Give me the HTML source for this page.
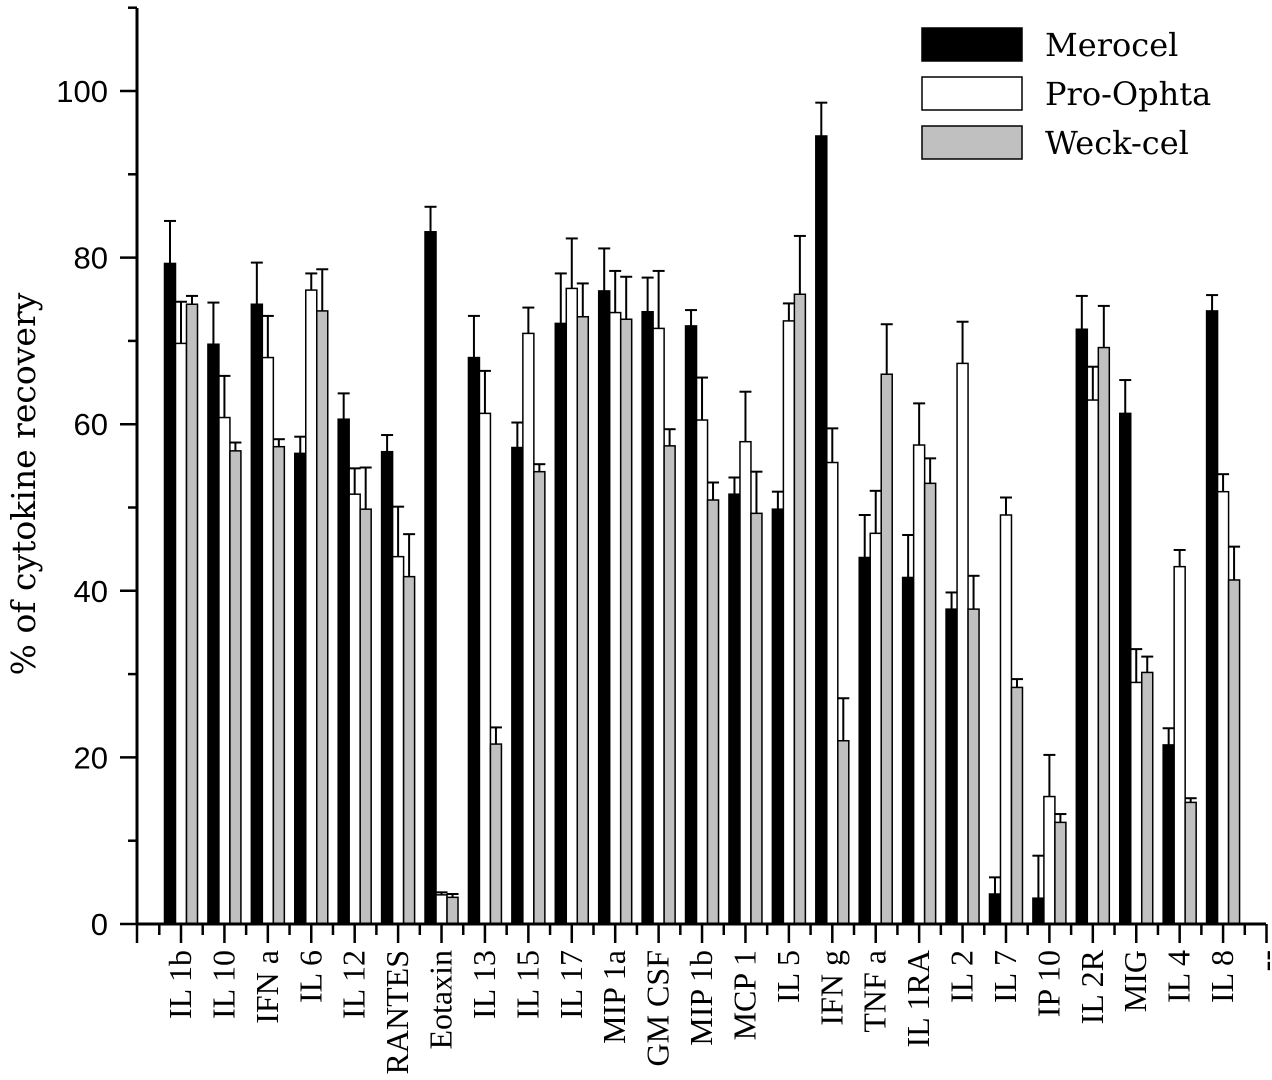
<!DOCTYPE html>
<html><head><meta charset="utf-8"><style>
html,body{margin:0;padding:0;background:#fff;}
svg{display:block;}
</style></head><body>
<svg id="chart" width="1272" height="1080" xmlns="http://www.w3.org/2000/svg"></svg>
<script>
const categories=["IL 1b","IL 10","IFN a","IL 6","IL 12","RANTES","Eotaxin","IL 13","IL 15","IL 17","MIP 1a","GM CSF","MIP 1b","MCP 1","IL 5","IFN g","TNF a","IL 1RA","IL 2","IL 7","IP 10","IL 2R","MIG","IL 4","IL 8"];
const merocel=[79.3,69.6,74.4,56.5,60.6,56.7,83.1,68.0,57.2,72.1,76.0,73.5,71.8,51.6,49.8,94.6,44.0,41.6,37.8,3.6,3.1,71.4,61.3,21.5,73.6];
const merocelErr=[5.1,5.0,5.0,2.0,3.1,2.0,3.0,5.0,3.0,6.0,5.1,4.1,1.9,2.0,2.1,4.0,5.1,5.1,2.0,2.0,5.1,4.0,4.0,2.0,1.9];
const proOphta=[69.7,60.8,68.0,76.1,51.6,44.1,3.5,61.3,70.9,76.3,73.4,71.5,60.5,57.9,72.4,55.4,46.9,57.5,67.3,49.1,15.3,62.9,29.0,42.9,51.9];
const proOphtaErr=[5.0,5.0,5.0,2.0,3.1,6.0,0.3,5.1,3.1,6.0,5.0,6.9,5.1,6.0,2.1,4.1,5.1,5.0,5.0,2.1,5.0,4.0,4.0,2.0,2.1];
const weckcel=[74.4,56.8,57.3,73.6,49.8,41.7,3.2,21.6,54.3,72.9,72.6,57.4,50.9,49.3,75.6,22.0,66.0,52.9,37.8,28.4,12.2,69.2,30.2,14.6,41.3];
const weckcelErr=[1.0,1.0,0.9,5.0,5.0,5.1,0.4,2.0,0.9,4.0,5.1,2.0,2.1,5.0,7.0,5.1,6.0,3.0,4.0,1.0,1.0,5.0,1.9,0.5,4.0];
const yTicks=[0,20,40,60,80,100];
const legendLabels=["Merocel","Pro-Ophta","Weck-cel"];

const NS="http://www.w3.org/2000/svg";
const svg=document.getElementById('chart');
const X0=137,Y0=924,PX=8.33,STEP=43.42,C0=181;
const yS=v=>Y0-v*PX;
const xS=i=>C0+i*STEP;
function mk(tag,attrs,parent){const e=document.createElementNS(NS,tag);for(const k in attrs)e.setAttribute(k,attrs[k]);(parent||svg).appendChild(e);return e;}

const series=[[merocel,merocelErr,"#000"],[proOphta,proOphtaErr,"#fff"],[weckcel,weckcelErr,"#c0c0c0"]];
const BW=11;
series.forEach((s,si)=>{
  const g=mk('g',{});
  
  
  s[0].forEach((v,i)=>{
    const x=xS(i)-16.5+si*BW;
    const cx=x+BW/2;
    const top=yS(v+s[1][i]);
    const el=mk('line',{x1:cx,x2:cx,y1:yS(v),y2:top,stroke:'#000','stroke-width':2},g);
    
    
    const cap=mk('line',{x1:cx-6,x2:cx+6,y1:top,y2:top,stroke:'#000','stroke-width':2},g);
    
    
    const r=mk('rect',{x:x,y:yS(v),width:BW,height:v*PX,fill:s[2],stroke:'#000','stroke-width':1.5},g);
    
    
  });
});

const ax=mk('line',{x1:X0,x2:X0,y1:8,y2:Y0+1,stroke:'#000','stroke-width':3});


const bx=mk('line',{x1:X0-1,x2:1266,y1:Y0,y2:Y0,stroke:'#000','stroke-width':3});


for(let v=0;v<=110;v+=10){
  const major=v%20===0;
  mk('line',{x1:X0-(major?17:9),x2:X0,y1:yS(v),y2:yS(v),stroke:'#000','stroke-width':2.5});
}
yTicks.forEach(v=>{
  const t=mk('text',{x:108,y:yS(v)+11,'text-anchor':'end','font-family':'Liberation Sans, sans-serif','font-size':31});
  t.textContent=v;
  
  
});
for(let i=-0.5;i<=25;i+=0.5){
  const major=Number.isInteger(i);
  const x=xS(i);
  if(x<X0-2)continue;
  mk('line',{x1:x,x2:x,y1:Y0,y2:Y0+(major?19:11),stroke:'#000','stroke-width':2.5});
}
mk('line',{x1:X0,x2:X0,y1:Y0,y2:Y0+19,stroke:'#000','stroke-width':2.5});
categories.concat(["--"]).forEach((c,i)=>{
  const x=xS(i)+10;
  const t=mk('text',{x:0,y:0,transform:`translate(${x},950) rotate(-90)`,'text-anchor':'end','font-family':'Liberation Serif, serif','font-size':32});
  t.textContent=c;
  
  
});
const yt=mk('text',{x:0,y:0,transform:'translate(35,484) rotate(-90)','text-anchor':'middle','font-family':'DejaVu Serif, Liberation Serif, serif','font-size':33});
yt.textContent='% of cytokine recovery';



const fills=["#000","#fff","#c0c0c0"];
const ly=[28,77,126];
legendLabels.forEach((l,i)=>{
  const g=mk('g',{});
  
  
  mk('rect',{x:922,y:ly[i],width:100,height:33,fill:fills[i],stroke:'#000','stroke-width':1.5},g);
  const t=mk('text',{x:1045,y:ly[i]+28,'font-family':'DejaVu Serif, Liberation Serif, serif','font-size':32},g);
  t.textContent=l;
});
</script>
</body></html>
